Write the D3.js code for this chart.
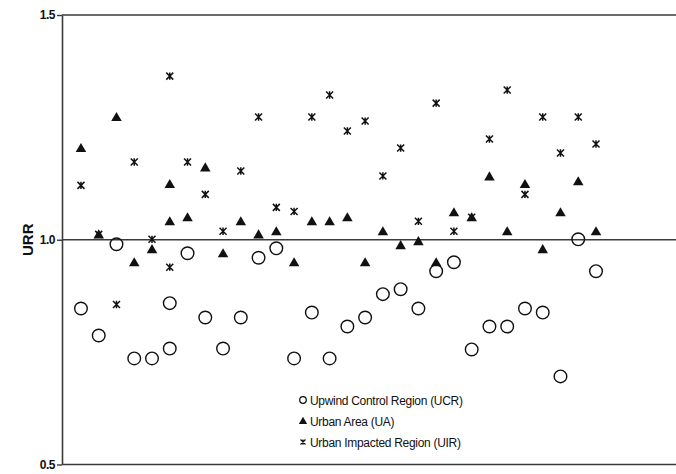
<!DOCTYPE html>
<html>
<head>
<meta charset="utf-8">
<script src="https://cdn.jsdelivr.net/npm/d3@7"></script>
<style>
  html, body { margin: 0; padding: 0; background: #fff; }
  svg { display: block; }
  text { font-family: "Liberation Sans", Arial, sans-serif; }
</style>
</head>
<body>
<svg id="chart" width="676" height="474"></svg>
<script>
// Category index of each observation (two observations share position 6)
const positions = [1, 2, 3, 4, 5, 6, 6, 7, 8, 9, 10, 11, 12, 13, 14, 15, 16, 17, 18, 19, 20, 21, 22, 23, 24, 25, 26, 27, 28, 29, 30];
const ucr = [0.847, 0.787, 0.990, 0.736, 0.736, 0.859, 0.758, 0.970, 0.827, 0.758, 0.827, 0.960, 0.981, 0.736, 0.838, 0.736, 0.807, 0.827, 0.879, 0.890, 0.847, 0.930, 0.950, 0.756, 0.807, 0.807, 0.847, 0.838, 0.696, 1.001, 0.930];
const ua  = [1.204, 1.012, 1.273, 0.950, 0.979, 1.124, 1.041, 1.050, 1.161, 0.970, 1.041, 1.012, 1.019, 0.950, 1.041, 1.041, 1.050, 0.950, 1.019, 0.988, 0.997, 0.950, 1.061, 1.050, 1.141, 1.019, 1.124, 0.979, 1.061, 1.130, 1.019];
const uir = [1.121, 1.012, 0.856, 1.173, 1.001, 1.364, 0.939, 1.173, 1.101, 1.019, 1.153, 1.273, 1.072, 1.063, 1.273, 1.322, 1.242, 1.264, 1.142, 1.204, 1.041, 1.304, 1.019, 1.050, 1.224, 1.333, 1.101, 1.273, 1.193, 1.273, 1.213];
const yTicks = [0.5, 1.0, 1.5];
const seriesNames = ["Upwind Control Region (UCR)", "Urban Area (UA)", "Urban Impacted Region (UIR)"];

const svg = d3.select("#chart");
const pLeft = 62, pRight = 677, pTop = 15, pBottom = 464.5;

const x = d3.scaleLinear().domain([0, 34.6]).range([63.2, 677.7]);
const y = d3.scaleLinear().domain([0.5, 1.5]).range([pBottom, pTop]);

const lineColor = "#3a3a3a";

// horizontal lines at ticks
svg.append("g").selectAll("line").data(yTicks).join("line")
  .attr("x1", pLeft).attr("x2", pRight)
  .attr("y1", d => y(d)).attr("y2", d => y(d))
  .attr("stroke", lineColor).attr("stroke-width", 1.4);

// y axis
const yAxis = d3.axisLeft(y).tickValues(yTicks).tickFormat(d3.format(".1f"))
  .tickSize(5).tickSizeOuter(0).tickPadding(2);
const ga = svg.append("g").attr("transform", `translate(${pLeft},0)`).call(yAxis);
ga.select(".domain").attr("stroke", lineColor).attr("stroke-width", 1.6);
ga.selectAll(".tick line").attr("stroke", lineColor).attr("stroke-width", 1.4);
ga.selectAll(".tick text").attr("font-size", 12).attr("font-weight", "bold")
  .attr("font-family", "'Liberation Sans', Arial, sans-serif").attr("fill", "#111")
  .attr("letter-spacing", "-0.5");

// y title
svg.append("text")
  .attr("transform", `translate(33,${y(1.0)}) rotate(-90)`)
  .attr("text-anchor", "middle")
  .attr("font-size", 15).attr("font-weight", "bold").attr("fill", "#111")
  .text("URR");

// marker generators
const tri = d3.symbol().type(d3.symbolTriangle);
function star(s) {
  const h = s / 2;
  return `M${-h},${-h}L${h},${h}M${-h},${h}L${h},${-h}M0,${-h * 1.05}L0,${h * 1.05}`;
}

const g = svg.append("g");
// UIR
g.append("g").selectAll("path").data(uir).join("path")
  .attr("transform", (d, i) => `translate(${x(positions[i])},${y(d)})`)
  .attr("d", star(7))
  .attr("fill", "none").attr("stroke", "#111").attr("stroke-width", 1.5);
// UA
g.append("g").selectAll("path").data(ua).join("path")
  .attr("transform", (d, i) => `translate(${x(positions[i])},${y(d) + 1})`)
  .attr("d", tri.size(48)())
  .attr("fill", "#111");
// UCR
g.append("g").selectAll("circle").data(ucr).join("circle")
  .attr("cx", (d, i) => x(positions[i])).attr("cy", d => y(d))
  .attr("r", 6.3)
  .attr("fill", "none").attr("stroke", "#111").attr("stroke-width", 1.4);

// legend
const lg = svg.append("g").attr("transform", "translate(303,400)");
const rows = lg.selectAll("g").data(seriesNames).join("g")
  .attr("transform", (d, i) => `translate(0,${i * 21})`);
rows.each(function(d, i) {
  const r = d3.select(this);
  if (i === 0) r.append("circle").attr("r", 3.3).attr("fill", "none").attr("stroke", "#111").attr("stroke-width", 1.2);
  if (i === 1) r.append("path").attr("d", tri.size(30)()).attr("transform", "translate(0,0.5)").attr("fill", "#111");
  if (i === 2) r.append("path").attr("d", star(5)).attr("fill", "none").attr("stroke", "#111").attr("stroke-width", 1.2);
});
rows.append("text").attr("x", 7).attr("y", 4.5)
  .attr("font-size", 12).attr("fill", "#111").attr("letter-spacing", "-0.3")
  .text(d => d);
</script>
</body>
</html>
